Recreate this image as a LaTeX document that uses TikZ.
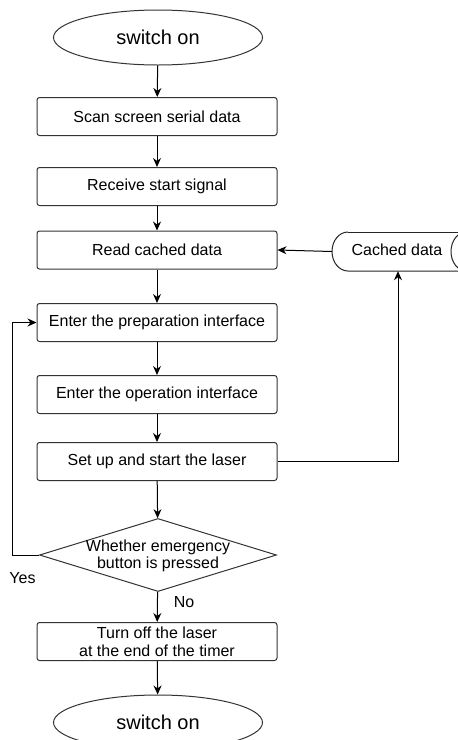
\documentclass[tikz,border=0pt]{standalone}
\usepackage{fontspec}
\setmainfont{Liberation Sans}
\usetikzlibrary{shapes.geometric,arrows.meta}
\begin{document}
\begin{tikzpicture}[x=1pt,y=-1pt,
  every node/.style={font=\fontsize{16}{18}\selectfont, text=black},
  procbox/.style={draw=black!80, line width=1pt, rounded corners=2.5pt, minimum width=240pt, minimum height=38pt, inner sep=0pt, align=center},
  term/.style={draw=black!80, line width=1pt, ellipse, minimum width=209pt, minimum height=55pt, inner sep=0pt, font=\fontsize{20}{24}\selectfont},
  decis/.style={draw=black!80, line width=1pt, diamond, minimum width=237pt, minimum height=73pt, inner sep=0pt},
  arr/.style={draw=black, line width=1pt, -{Stealth[length=9pt,width=8pt]}},
  plain/.style={draw=black!85, line width=1pt}]
\useasboundingbox (0,0) rectangle (458,740);
\clip (0,0) rectangle (458,740);
\node[term] (top) at (158,37.5) {switch on};
\node[procbox] (scan) at (157,116.5) {Scan screen serial data};
\node[procbox] (recv) at (157,186.5) {Receive start signal};
\node[procbox] (read) at (157,250) {Read cached data};
\node[procbox] (prep) at (157,322.5) {Enter the preparation interface};
\node[procbox] (oper) at (157,394.5) {Enter the operation interface};
\node[procbox] (setup) at (157,461.5) {Set up and start the laser};
\node[decis] (dec) at (158,555) {};
\node[align=center, font=\fontsize{16}{17}\selectfont] (dectext) at (158,556) {Whether emergency\\button is pressed};
\node[procbox, font=\fontsize{16}{18}\selectfont] (off) at (157,641.5) {Turn off the laser\\at the end of the timer};
\node[term] (bot) at (158,722.5) {switch on};
% cached data storage shape
\node[minimum width=132pt, minimum height=39pt, inner sep=0pt] (cache) at (398,251.5) {};
\node (cachetext) at (397,250) {Cached data};
\draw[plain] (348,232) .. controls (339.2,232) and (332,240.7) .. (332,251.5)
  .. controls (332,262.3) and (339.2,271) .. (348,271) -- (470,271);
\draw[plain] (348,232) -- (470,232);
\draw[plain] (466,232) .. controls (458,232) and (451,240.7) .. (451,251.5)
  .. controls (451,262.3) and (458,271) .. (466,271);
% connectors
\draw[arr] (top) -- (scan);
\draw[arr] (scan) -- (recv);
\draw[arr] (recv) -- (read);
\draw[arr] (read) -- (prep);
\draw[arr] (prep) -- (oper);
\draw[arr] (oper) -- (setup);
\draw[arr] (setup) -- (dec);
\draw[arr] (dec) -- (off);
\draw[arr] (off) -- (bot);
\draw[arr] (cache.west) -- (read.east);
\draw[arr] (setup.east) -| (cache.south);
\coordinate (loopc) at (12,555);
\draw[arr] (dec.west) -- (loopc) |- (prep.west);
\node (yes) at (22.5,578) {Yes};
\node (no) at (184,602) {No};
\end{tikzpicture}
\end{document}
